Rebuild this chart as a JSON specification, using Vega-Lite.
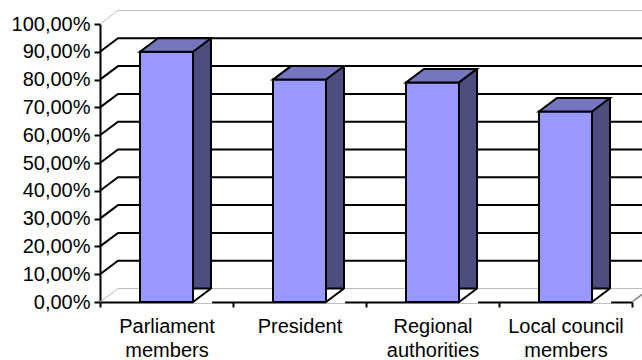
{
  "$schema": "https://vega.github.io/schema/vega-lite/v6.json",
  "width": 532,
  "height": 278,
  "autosize": {"type": "none"},
  "padding": {"left": 100, "top": 24, "right": 10, "bottom": 58},
  "background": "white",
  "config": {
    "view": {"stroke": null},
    "font": "Liberation Sans",
    "axis": {"labelFont": "Liberation Sans", "labelFontSize": 20, "labelColor": "black", "domainColor": "black", "domainWidth": 2, "tickColor": "black", "tickWidth": 2, "grid": false, "title": null, "zindex": 1},
    "axisX": {"tickBand": "extent", "tickSize": 5, "labelPadding": 9, "labelAngle": 0, "labelAlign": "center", "labelLineHeight": 24, "labelBaseline": "top"}
  },
  "resolve": {"axis": {"y": "independent"}},
  "datasets": {
    "bars": [
      {"category": "Parliament members", "value": 0.90},
      {"category": "President", "value": 0.80},
      {"category": "Regional authorities", "value": 0.79},
      {"category": "Local council members", "value": 0.685}
    ],
    "ticks": [
      {"t": 0}, {"t": 0.1}, {"t": 0.2}, {"t": 0.3}, {"t": 0.4}, {"t": 0.5},
      {"t": 0.6}, {"t": 0.7}, {"t": 0.8}, {"t": 0.9}, {"t": 1}
    ]
  },
  "layer": [
    {
      "data": {"name": "ticks"},
      "transform": [{"filter": "datum.t > 0.05 && datum.t < 0.95"}],
      "mark": {"type": "point", "shape": "M -66.5 0 L -48.5 -13.5 L 490 -13.5", "size": 4, "filled": false, "stroke": "black", "strokeWidth": 2, "opacity": 1},
      "encoding": {
        "x": {"datum": "Parliament members", "type": "nominal", "scale": {"domain": ["Parliament members", "President", "Regional authorities", "Local council members"], "paddingInner": 0, "paddingOuter": 0},
          "axis": {"labelExpr": "datum.value == 'Parliament members' ? ['Parliament', 'members'] : datum.value == 'Regional authorities' ? ['Regional', 'authorities'] : datum.value == 'Local council members' ? ['Local council', 'members'] : datum.value"}},
        "y": {"field": "t", "type": "quantitative", "scale": {"domain": [0, 1], "nice": false},
          "axis": {"values": [0, 0.1, 0.2, 0.3, 0.4, 0.5, 0.6, 0.7, 0.8, 0.9, 1], "tickSize": 6, "labelPadding": 4, "labelOverlap": false, "labelBound": false, "labelFlush": false, "labelSeparation": 0, "labelExpr": "replace(format(datum.value, '.2%'), '.', ',')"}}
      }
    },
    {
      "data": {"name": "ticks"},
      "transform": [{"filter": "datum.t < 0.05 || datum.t > 0.95"}],
      "mark": {"type": "point", "shape": "M -66.5 0 L -48.5 -13.5 L 490 -13.5", "size": 4, "filled": false, "stroke": "#bdbdbd", "strokeWidth": 1, "opacity": 1},
      "encoding": {
        "x": {"datum": "Parliament members", "type": "nominal", "scale": {"domain": ["Parliament members", "President", "Regional authorities", "Local council members"], "paddingInner": 0, "paddingOuter": 0},
          "axis": {"labelExpr": "datum.value == 'Parliament members' ? ['Parliament', 'members'] : datum.value == 'Regional authorities' ? ['Regional', 'authorities'] : datum.value == 'Local council members' ? ['Local council', 'members'] : datum.value"}},
        "y": {"field": "t", "type": "quantitative", "scale": {"domain": [0, 1], "nice": false}, "axis": null}
      }
    },
    {
      "data": {"name": "ticks"},
      "transform": [{"filter": "datum.t < 0.05"}],
      "mark": {"type": "point", "shape": "M 66.5 0 L 84.5 -13.5", "size": 4, "filled": false, "stroke": "#808080", "strokeWidth": 1.5, "opacity": 1},
      "encoding": {
        "x": {"datum": "Local council members", "type": "nominal", "scale": {"domain": ["Parliament members", "President", "Regional authorities", "Local council members"], "paddingInner": 0, "paddingOuter": 0},
          "axis": {"labelExpr": "datum.value == 'Parliament members' ? ['Parliament', 'members'] : datum.value == 'Regional authorities' ? ['Regional', 'authorities'] : datum.value == 'Local council members' ? ['Local council', 'members'] : datum.value"}},
        "y": {"field": "t", "type": "quantitative", "scale": {"domain": [0, 1], "nice": false}, "axis": null}
      }
    },
    {
      "data": {"name": "bars"},
      "mark": {"type": "bar", "width": 18, "xOffset": 35.5, "yOffset": -13.5, "fill": "#4D4D80", "stroke": "black", "strokeWidth": 2},
      "encoding": {
        "x": {"field": "category", "type": "nominal", "scale": {"domain": ["Parliament members", "President", "Regional authorities", "Local council members"], "paddingInner": 0, "paddingOuter": 0},
          "axis": {"labelExpr": "datum.value == 'Parliament members' ? ['Parliament', 'members'] : datum.value == 'Regional authorities' ? ['Regional', 'authorities'] : datum.value == 'Local council members' ? ['Local council', 'members'] : datum.value"}},
        "y": {"field": "value", "type": "quantitative", "scale": {"domain": [0, 1], "nice": false}, "axis": null}
      }
    },
    {
      "data": {"name": "bars"},
      "mark": {"type": "point", "shape": "M 26.5 0.5 L 44.5 -13 L 45.6 -13 L 45.6 1.5 L 26.5 1.5 Z", "size": 4, "filled": true, "fill": "white", "strokeWidth": 0, "opacity": 1},
      "encoding": {
        "x": {"field": "category", "type": "nominal", "scale": {"domain": ["Parliament members", "President", "Regional authorities", "Local council members"], "paddingInner": 0, "paddingOuter": 0},
          "axis": {"labelExpr": "datum.value == 'Parliament members' ? ['Parliament', 'members'] : datum.value == 'Regional authorities' ? ['Regional', 'authorities'] : datum.value == 'Local council members' ? ['Local council', 'members'] : datum.value"}},
        "y": {"datum": 0, "type": "quantitative", "scale": {"domain": [0, 1], "nice": false}, "axis": null}
      }
    },
    {
      "data": {"name": "bars"},
      "mark": {"type": "point", "shape": "M 26.5 0 L 44.5 -13.5", "size": 4, "filled": false, "stroke": "black", "strokeWidth": 2, "opacity": 1},
      "encoding": {
        "x": {"field": "category", "type": "nominal", "scale": {"domain": ["Parliament members", "President", "Regional authorities", "Local council members"], "paddingInner": 0, "paddingOuter": 0},
          "axis": {"labelExpr": "datum.value == 'Parliament members' ? ['Parliament', 'members'] : datum.value == 'Regional authorities' ? ['Regional', 'authorities'] : datum.value == 'Local council members' ? ['Local council', 'members'] : datum.value"}},
        "y": {"datum": 0, "type": "quantitative", "scale": {"domain": [0, 1], "nice": false}, "axis": null}
      }
    },
    {
      "data": {"name": "bars"},
      "mark": {"type": "bar", "width": 53, "fill": "#9999FF", "stroke": "black", "strokeWidth": 2},
      "encoding": {
        "x": {"field": "category", "type": "nominal", "scale": {"domain": ["Parliament members", "President", "Regional authorities", "Local council members"], "paddingInner": 0, "paddingOuter": 0},
          "axis": {"labelExpr": "datum.value == 'Parliament members' ? ['Parliament', 'members'] : datum.value == 'Regional authorities' ? ['Regional', 'authorities'] : datum.value == 'Local council members' ? ['Local council', 'members'] : datum.value"}},
        "y": {"field": "value", "type": "quantitative", "scale": {"domain": [0, 1], "nice": false}, "axis": null}
      }
    },
    {
      "data": {"name": "bars"},
      "mark": {"type": "point", "shape": "M -26.5 0 L 26.5 0 L 44.5 -13.5 L -8.5 -13.5 Z", "size": 4, "filled": true, "fill": "#7676BE", "stroke": "black", "strokeWidth": 2, "opacity": 1},
      "encoding": {
        "x": {"field": "category", "type": "nominal", "scale": {"domain": ["Parliament members", "President", "Regional authorities", "Local council members"], "paddingInner": 0, "paddingOuter": 0},
          "axis": {"labelExpr": "datum.value == 'Parliament members' ? ['Parliament', 'members'] : datum.value == 'Regional authorities' ? ['Regional', 'authorities'] : datum.value == 'Local council members' ? ['Local council', 'members'] : datum.value"}},
        "y": {"field": "value", "type": "quantitative", "scale": {"domain": [0, 1], "nice": false}, "axis": null}
      }
    }
  ]
}
